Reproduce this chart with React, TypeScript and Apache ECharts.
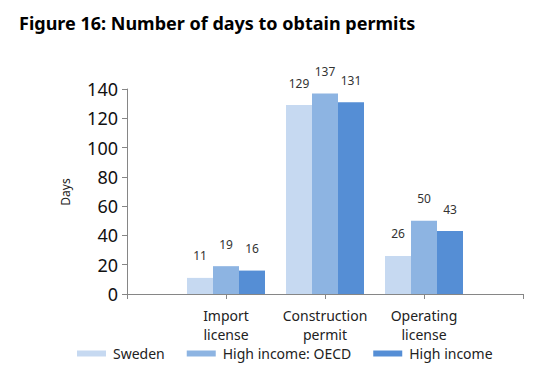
import React, { useEffect, useRef } from "react";
import * as echarts from "echarts";

const categories = ["", "Import\nlicense", "Construction\npermit", "Operating\nlicense", ""];
const seriesNames = ["Sweden", "High income: OECD", "High income"];
const sweden = [null, 11, 129, 26, null];
const oecd = [null, 19, 137, 50, null];
const highIncome = [null, 16, 131, 43, null];
const colors = ["#c6d9f1", "#8db4e2", "#558ed5"];

const FONT = "'Noto Sans', sans-serif";

export default function App() {
  const ref = useRef<HTMLDivElement>(null);
  useEffect(() => {
    if (!ref.current) return;
    const chart = echarts.init(ref.current, undefined, { renderer: "svg" });
    const values = [sweden, oecd, highIncome];
    chart.setOption({
      animation: false,
      textStyle: { fontFamily: FONT },
      title: {
        text: "Figure 16: Number of days to obtain permits",
        left: 19,
        top: 14,
        padding: 0,
        textStyle: { fontFamily: FONT, fontSize: 18, fontWeight: "bold", color: "#000" },
      },
      graphic: [
        {
          type: "text",
          x: 65,
          y: 192,
          rotation: Math.PI / 2,
          style: {
            text: "Days",
            fontFamily: FONT,
            fontSize: 12,
            fill: "#222",
            align: "center",
            verticalAlign: "middle",
          },
        },
      ],
      legend: {
        left: 77,
        top: 345,
        padding: 0,
        itemWidth: 29,
        itemHeight: 6,
        itemGap: 22,
        icon: "rect",
        textStyle: { fontFamily: FONT, fontSize: 14, lineHeight: 17, color: "#222", padding: [0, 0, 0, 2] },
        data: seriesNames,
      },
      grid: { left: 127, right: 19, top: 89, bottom: 85, containLabel: false },
      xAxis: {
        type: "category",
        data: categories,
        boundaryGap: false,
        axisLine: { lineStyle: { color: "#868686", width: 1 } },
        axisTick: { show: true, length: 5, lineStyle: { color: "#868686" } },
        axisLabel: {
          interval: 0,
          margin: 12,
          fontFamily: FONT,
          fontSize: 14,
          lineHeight: 19,
          color: "#222",
        },
        splitLine: { show: false },
      },
      yAxis: {
        type: "value",
        min: 0,
        max: 140,
        interval: 20,
        axisLine: { show: true, lineStyle: { color: "#868686", width: 1 } },
        axisTick: { show: true, length: 5, lineStyle: { color: "#868686" } },
        axisLabel: { fontFamily: FONT, fontSize: 18, color: "#111", margin: 9 },
        splitLine: { show: false },
      },
      series: seriesNames.map((name, i) => ({
        name,
        type: "bar",
        data: values[i],
        barWidth: 26,
        barGap: "0%",
        itemStyle: { color: colors[i] },
        label: {
          show: true,
          position: "top",
          distance: 16,
          fontFamily: FONT,
          fontSize: 12,
          color: "#333",
        },
      })),
    });
    return () => chart.dispose();
  }, []);
  return <div ref={ref} style={{ width: 542, height: 379, position: "absolute", left: 0, top: 0 }} />;
}
